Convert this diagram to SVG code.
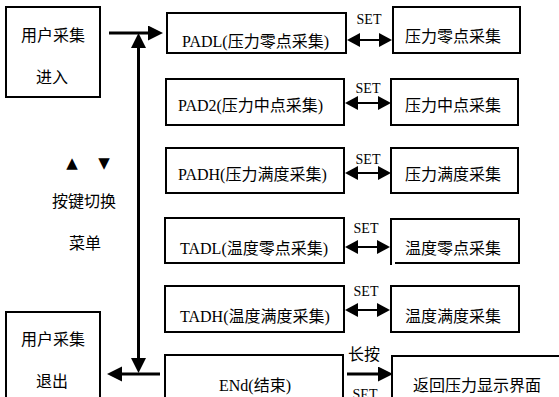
<svg xmlns="http://www.w3.org/2000/svg" width="559" height="397" viewBox="0 0 559 397">
<style>
.box{fill:#fff;stroke:#000;stroke-width:2}
.t{font-family:'Liberation Serif','Noto Sans CJK SC',serif;font-size:16px;fill:#000}
.c{text-anchor:middle}
.sym{font-family:'DejaVu Sans',sans-serif;font-size:15px;fill:#000;text-anchor:middle}
.set{font-family:'Liberation Serif',serif;font-size:14px;fill:#000;text-anchor:middle}
.thick{stroke:#000;stroke-width:3;fill:none}
.thin{stroke:#000;stroke-width:2;fill:none}
</style>
<defs>
<marker id="ah" markerUnits="userSpaceOnUse" markerWidth="16" markerHeight="16" refX="3" refY="7.5" orient="auto-start-reverse">
<path d="M0,0 L15,7.5 L0,15 z" fill="#000"/>
</marker>
<marker id="ahs" markerUnits="userSpaceOnUse" markerWidth="14" markerHeight="15" refX="3" refY="7" orient="auto-start-reverse">
<path d="M0,0 L13,7 L0,14 z" fill="#000"/>
</marker>
</defs>
<rect width="559" height="397" fill="#fff"/>

<g id="enter">
<rect class="box" x="6" y="7" width="94" height="90"/>
<text class="t c" x="53" y="41">用户采集</text>
<text class="t c" x="52" y="83">进入</text>
</g>
<g id="menu-label">
<text class="sym" x="72" y="168">▲</text>
<text class="sym" x="104" y="168">▼</text>
<text class="t c" x="84" y="207">按键切换</text>
<text class="t c" x="85" y="249">菜单</text>
</g>
<g id="exit">
<rect class="box" x="6" y="312" width="94" height="95"/>
<text class="t c" x="53" y="345">用户采集</text>
<text class="t c" x="52" y="387">退出</text>
</g>

<g id="padl">
<rect class="box" x="167" y="13" width="179" height="40"/>
<text class="t" x="182" y="47">PADL(压力零点采集)</text>
</g>
<g id="padl-r">
<rect class="box" x="393" y="7" width="127" height="46"/>
<text class="t" x="405" y="42">压力零点采集</text>
</g>
<g id="pad2">
<rect class="box" x="166" y="79" width="178" height="46"/>
<text class="t" x="178" y="111">PAD2(压力中点采集)</text>
</g>
<g id="pad2-r">
<rect class="box" x="391" y="79" width="127" height="46"/>
<text class="t" x="405" y="111">压力中点采集</text>
</g>
<g id="padh">
<rect class="box" x="166" y="148" width="178" height="45"/>
<text class="t" x="178" y="180">PADH(压力满度采集)</text>
</g>
<g id="padh-r">
<rect class="box" x="391" y="148" width="127" height="45"/>
<text class="t" x="405" y="180">压力满度采集</text>
</g>
<g id="tadl">
<rect class="box" x="165" y="218" width="179" height="45"/>
<text class="t" x="180" y="254">TADL(温度零点采集)</text>
</g>
<g id="tadl-r">
<path class="box" d="M391,265 V219 H519 V263 H395"/>
<text class="t" x="405" y="254">温度零点采集</text>
</g>
<g id="tadh">
<rect class="box" x="165" y="286" width="179" height="46"/>
<text class="t" x="180" y="322">TADH(温度满度采集)</text>
</g>
<g id="tadh-r">
<rect class="box" x="391" y="286" width="128" height="46"/>
<text class="t" x="405" y="322">温度满度采集</text>
</g>
<g id="end">
<rect class="box" x="165" y="355" width="178" height="52"/>
<text class="t c" x="255" y="391">ENd(结束)</text>
</g>
<g id="end-r">
<rect class="box" x="392" y="356" width="180" height="52"/>
<text class="t" x="413" y="391">返回压力显示界面</text>
</g>

<g id="connectors">
<line class="thick" x1="109" y1="33" x2="151" y2="33" marker-end="url(#ah)"/>
<line class="thick" x1="138.5" y1="45" x2="138.5" y2="361" marker-start="url(#ah)" marker-end="url(#ah)"/>
<line class="thick" x1="160" y1="374" x2="119" y2="374" marker-end="url(#ah)"/>
<line class="thick" x1="347" y1="374" x2="381" y2="374" marker-end="url(#ah)"/>
<line class="thin" x1="357" y1="40" x2="382" y2="40" marker-start="url(#ahs)" marker-end="url(#ahs)"/>
<line class="thin" x1="355" y1="103" x2="381" y2="103" marker-start="url(#ahs)" marker-end="url(#ahs)"/>
<line class="thin" x1="355" y1="173" x2="381" y2="173" marker-start="url(#ahs)" marker-end="url(#ahs)"/>
<line class="thin" x1="355" y1="247" x2="380" y2="247" marker-start="url(#ahs)" marker-end="url(#ahs)"/>
<line class="thin" x1="355" y1="310" x2="380" y2="310" marker-start="url(#ahs)" marker-end="url(#ahs)"/>
<text class="set" x="369" y="24">SET</text>
<text class="set" x="368" y="93">SET</text>
<text class="set" x="368" y="164">SET</text>
<text class="set" x="366" y="233">SET</text>
<text class="set" x="366" y="296">SET</text>
<text class="t c" x="364" y="360">长按</text>
<text class="set" x="365" y="399">SET</text>
</g>
</svg>
